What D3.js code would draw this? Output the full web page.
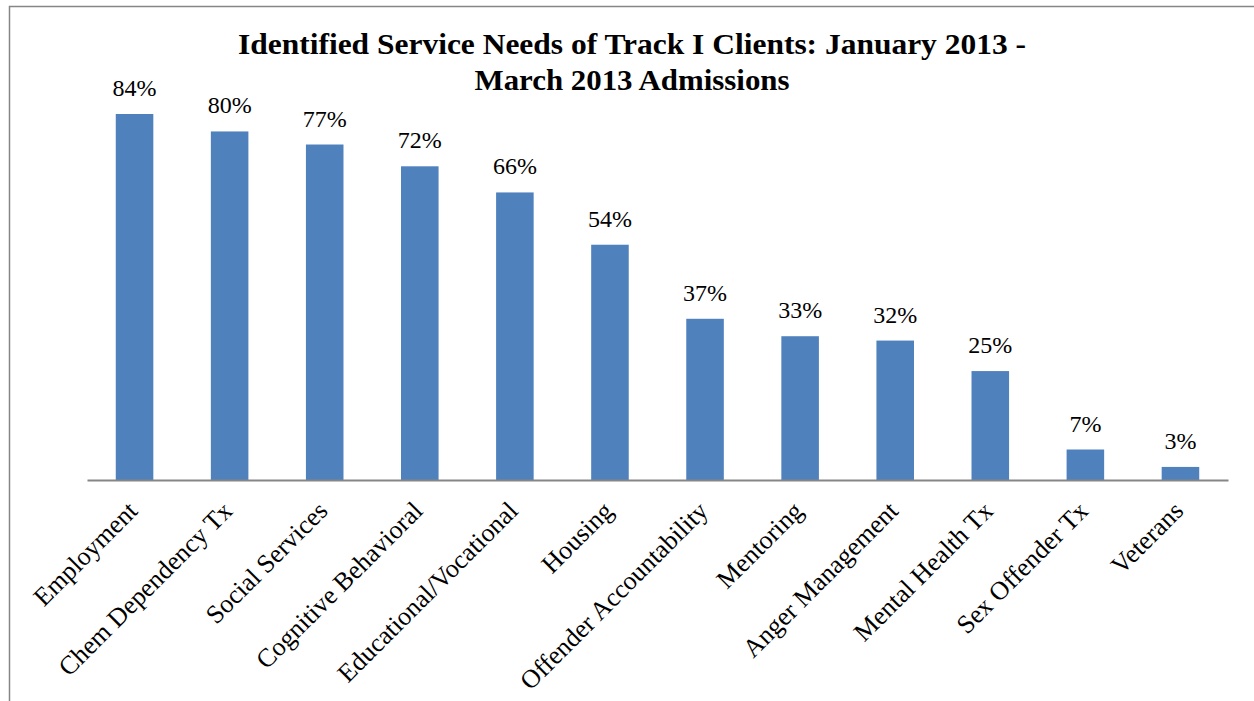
<!DOCTYPE html>
<html><head><meta charset="utf-8">
<script src="https://cdn.jsdelivr.net/npm/d3@7"></script>
<style>body{margin:0;background:#fff}svg{display:block}</style>
</head><body>
<svg id="c" width="1254" height="701"></svg>
<script>
const categories = ["Employment","Chem Dependency Tx","Social Services","Cognitive Behavioral","Educational/Vocational","Housing","Offender Accountability","Mentoring","Anger Management","Mental Health Tx","Sex Offender Tx","Veterans"];
const values = [84,80,77,72,66,54,37,33,32,25,7,3];
const titleLines = ["Identified Service Needs of Track I Clients: January 2013 -","March 2013 Admissions"];

const svg = d3.select("#c");
const font = "Liberation Serif, Times New Roman, serif";

svg.append("rect").attr("x",9.5).attr("y",6.5).attr("width",1400).attr("height",900)
  .attr("fill","none").attr("stroke","#868686").attr("stroke-width",1.5);

const x = d3.scaleBand().domain(categories).range([87,1228]).paddingInner(0.605).paddingOuter(0.3025);
const y = d3.scaleLinear().domain([0,100]).range([480,44.3]);

svg.selectAll("rect.bar").data(values).join("rect").attr("class","bar")
  .attr("x",(d,i)=>x(categories[i])).attr("width",x.bandwidth())
  .attr("y",d=>y(d)).attr("height",d=>y(0)-y(d)).attr("fill","#4F81BD");

svg.selectAll("text.val").data(values).join("text").attr("class","val")
  .attr("x",(d,i)=>x(categories[i])+x.bandwidth()/2).attr("y",d=>y(d)-18)
  .attr("text-anchor","middle").style("font-family",font).style("font-size","24px").attr("fill","#000")
  .text(d=>d+"%");

const xAxis = svg.append("g").attr("transform","translate(0,480)")
  .call(d3.axisBottom(x).tickSize(0).tickPadding(0));
xAxis.select(".domain").attr("stroke","#868686").attr("stroke-width",2);
xAxis.selectAll(".tick text")
  .style("font-family",font).style("font-size","26px").attr("fill","#000")
  .attr("text-anchor","end")
  .attr("transform","translate(-2,26) rotate(-45)")
  .attr("dy","0.35em").attr("y",0).attr("x",0);

const t1 = svg.append("text").attr("x",632).attr("y",54).attr("text-anchor","middle")
  .style("font-family",font).attr("font-weight","bold").style("font-size","29px")
  .attr("textLength",788).attr("lengthAdjust","spacingAndGlyphs").text(titleLines[0]);
svg.append("text").attr("x",632).attr("y",90).attr("text-anchor","middle")
  .style("font-family",font).attr("font-weight","bold").style("font-size","29px")
  .attr("textLength",315).attr("lengthAdjust","spacingAndGlyphs").text(titleLines[1]);
</script>
</body></html>
